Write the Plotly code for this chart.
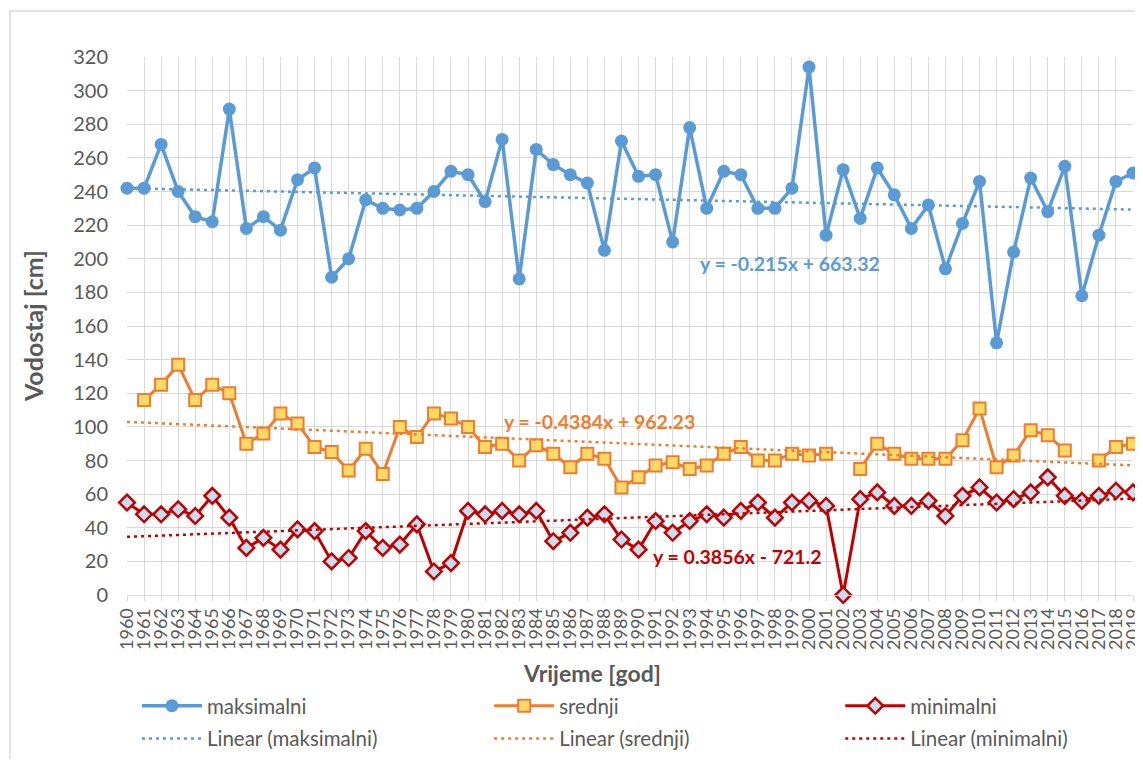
import plotly.graph_objects as go

years = list(range(1960, 2020))

maksimalni = [242, 242, 268, 240, 225, 222, 289, 218, 225, 217,
              247, 254, 189, 200, 235, 230, 229, 230, 240, 252,
              250, 234, 271, 188, 265, 256, 250, 245, 205, 270,
              249, 250, 210, 278, 230, 252, 250, 230, 230, 242,
              314, 214, 253, 224, 254, 238, 218, 232, 194, 221,
              246, 150, 204, 248, 228, 255, 178, 214, 246, 251]

srednji = [None, 116, 125, 137, 116, 125, 120, 90, 96, 108,
           102, 88, 85, 74, 87, 72, 100, 94, 108, 105,
           100, 88, 90, 80, 89, 84, 76, 84, 81, 64,
           70, 77, 79, 75, 77, 84, 88, 80, 80, 84,
           83, 84, None, 75, 90, 84, 81, 81, 81, 92,
           111, 76, 83, 98, 95, 86, None, 80, 88, 90]

minimalni = [55, 48, 48, 51, 47, 59, 46, 28, 34, 27,
             39, 38, 20, 22, 38, 28, 30, 42, 14, 19,
             50, 48, 50, 48, 50, 32, 37, 46, 48, 33,
             27, 44, 37, 44, 48, 46, 50, 55, 46, 55,
             56, 53, 0, 57, 61, 53, 53, 56, 47, 59,
             64, 55, 57, 61, 70, 59, 56, 59, 62, 61]

# trendline coefficients as printed on the chart (slope, intercept)
trend_max = (-0.215, 663.32)
trend_sred = (-0.4384, 962.23)
trend_min = (0.3856, -721.2)

eq_max = "y = -0.215x + 663.32"
eq_sred = "y = -0.4384x + 962.23"
eq_min = "y = 0.3856x - 721.2"

BLUE = "#5B9BD5"
ORANGE = "#ED7D31"
RED = "#C00000"
GREY = "#595959"
FONT = "Lato, 'Noto Sans', sans-serif"


def trend(coef):
    return [coef[0] * y + coef[1] for y in years]


fig = go.Figure()

fig.add_trace(go.Scatter(
    x=years, y=maksimalni, name="maksimalni", mode="lines+markers",
    line=dict(color=BLUE, width=3.5),
    marker=dict(symbol="circle", size=13, color=BLUE),
    legend="legend", legendgroup="a1", cliponaxis=False))
fig.add_trace(go.Scatter(
    x=years, y=srednji, name="srednji", mode="lines+markers",
    line=dict(color=ORANGE, width=3),
    marker=dict(symbol="square", size=12, color="#FFD966",
                line=dict(color=ORANGE, width=2)),
    legend="legend2", legendgroup="b1", cliponaxis=False))
fig.add_trace(go.Scatter(
    x=years, y=minimalni, name="minimalni", mode="lines+markers",
    line=dict(color=RED, width=3),
    marker=dict(symbol="diamond", size=12, color="#C9DDF0",
                line=dict(color=RED, width=2.5)),
    legend="legend3", legendgroup="c1", cliponaxis=False))

fig.add_trace(go.Scatter(
    x=years, y=trend(trend_max), name="Linear (maksimalni)", mode="lines",
    line=dict(color=BLUE, width=2.5, dash="3px,4px"),
    legend="legend", legendgroup="a2"))
fig.add_trace(go.Scatter(
    x=years, y=trend(trend_sred), name="Linear (srednji)", mode="lines",
    line=dict(color=ORANGE, width=2.5, dash="3px,4px"),
    legend="legend2", legendgroup="b2"))
fig.add_trace(go.Scatter(
    x=years, y=trend(trend_min), name="Linear (minimalni)", mode="lines",
    line=dict(color=RED, width=2.5, dash="3px,4px"),
    legend="legend3", legendgroup="c2"))

# page has an 8px body margin, so the figure is drawn 8px in from the corner
leg = dict(orientation="v", yanchor="top", y=-0.169, xanchor="left",
           font=dict(family=FONT, size=20.5, color=GREY), itemwidth=60,
           tracegroupgap=3, bgcolor="rgba(0,0,0,0)")

fig.update_layout(
    width=1135, height=751,
    margin=dict(l=119, r=10, t=49, b=164, autoexpand=False),
    paper_bgcolor="white", plot_bgcolor="white",
    font=dict(family=FONT, size=20, color=GREY),
    legend=dict(leg, x=0.0099),
    legend2=dict(leg, x=0.360),
    legend3=dict(leg, x=0.709),
    xaxis=dict(range=[1960, 2019], tickvals=years, ticktext=[str(y) for y in years],
               tickangle=-90, showgrid=True, gridcolor="#D9D9D9", gridwidth=1,
               showline=True, linecolor="#D9D9D9", linewidth=1,
               ticks="outside", ticklen=5, tickcolor="#D9D9D9",
               tickfont=dict(size=18, color=GREY), zeroline=False),
    yaxis=dict(range=[0, 320], dtick=20, showgrid=True, gridcolor="#D9D9D9",
               gridwidth=1, zeroline=False, showline=False,
               tickfont=dict(size=20, color=GREY), ticks="", ticklabelstandoff=18),
    shapes=[dict(type="rect", xref="paper", yref="paper",
                 x0=-0.1163, x1=1.2, y0=-0.5, y1=1.0855,
                 line=dict(color="#D9D9D9", width=1.5), layer="below")],
    annotations=[
        dict(x=1998.9, y=197, text="<b>" + eq_max + "</b>", showarrow=False,
             font=dict(size=19.5, color=BLUE)),
        dict(x=1987.7, y=103, text="<b>" + eq_sred + "</b>", showarrow=False,
             font=dict(size=19.5, color=ORANGE)),
        dict(x=1995.8, y=23, text="<b>" + eq_min + "</b>", showarrow=False,
             font=dict(size=19.5, color=RED)),
        dict(xref="paper", yref="paper", x=-0.0934, y=0.5, textangle=-90,
             xanchor="center", yanchor="middle",
             text="<b>Vodostaj [cm]</b>", showarrow=False,
             font=dict(size=25, color=GREY)),
        dict(xref="paper", yref="paper", x=0.462, y=-0.145,
             xanchor="center", yanchor="middle",
             text="<b>Vrijeme [god]</b>", showarrow=False,
             font=dict(size=23, color=GREY)),
    ],
)

fig.write_html("out.html")
